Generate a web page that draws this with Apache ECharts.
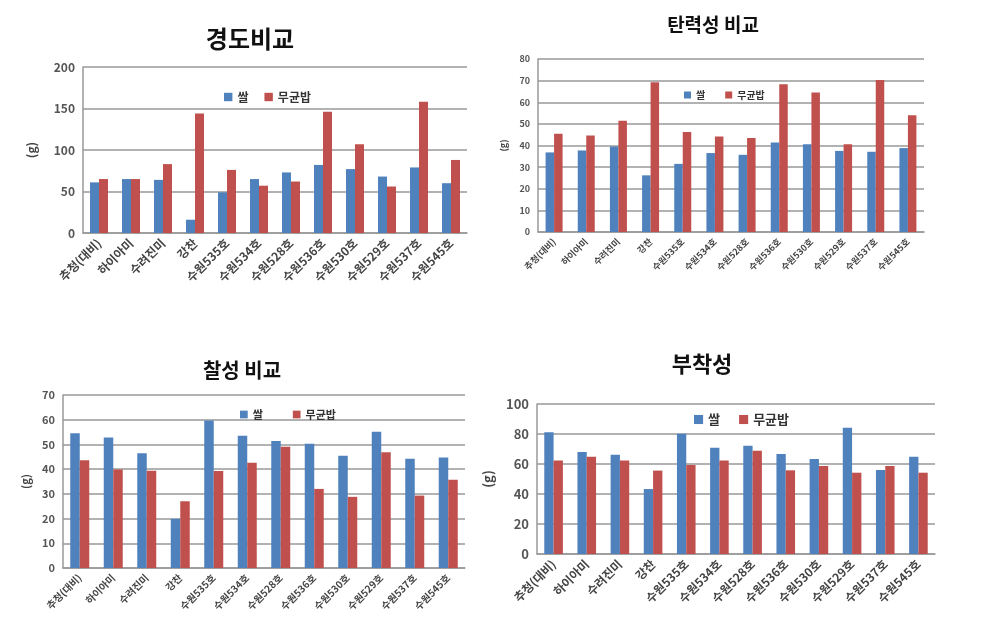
<!DOCTYPE html>
<html><head><meta charset="utf-8">
<script src="https://cdn.jsdelivr.net/npm/echarts@6/dist/echarts.min.js"></script>
<style>html,body{margin:0;padding:0;background:#fff}#c{width:993px;height:640px}</style>
</head><body><div id="c"></div>
<script>
const categories = ['추청(대비)','하이아미','수려진미','강찬','수원535호','수원534호','수원528호','수원536호','수원530호','수원529호','수원537호','수원545호'];
const seriesNames = ['쌀','무균밥'];
const titles = ['경도비교','탄력성 비교','찰성 비교','부착성'];
// 경도
const hardRice = [61,65,64,16,49,65,73,82,77,68,79,60];
const hardCooked = [65,65,83,144,76,57,62,146,107,56,158,88];
// 탄력성
const elasRice = [36.8,37.7,39.5,26.2,31.5,36.5,35.7,41.4,40.6,37.5,37.1,38.8];
const elasCooked = [45.4,44.6,51.5,69.2,46.3,44.2,43.5,68.3,64.5,40.6,70.3,54];
// 찰성
const stickRice = [54.5,52.8,46.4,19.9,59.7,53.5,51.4,50.3,45.4,55.1,44.2,44.7];
const stickCooked = [43.6,39.9,39.3,27,39.2,42.6,49.1,32,28.8,46.8,29.3,35.7];
// 부착성
const adhRice = [81.1,68,66.2,43.3,80.2,70.9,72.2,66.7,63.3,84.2,56,64.9];
const adhCooked = [62.4,64.9,62.4,55.6,59.3,62.4,68.9,55.8,58.7,54.2,58.7,54.2];
const yMax = [200,80,70,100];
const yStep = [50,10,10,20];
const yName = '(g)';

const FONT = '"Noto Sans CJK KR", "Noto Sans", sans-serif';
const BLUE = '#4f81bd', RED = '#c0504d';
const data = [[hardRice,hardCooked],[elasRice,elasCooked],[stickRice,stickCooked],[adhRice,adhCooked]];

const L = [
  {grid:{left:83,top:67,width:384,height:166}, title:[245,22,24], legend:[219,86,12], lgap:16, ylab:12, xlab:12, gap:46, bw:9},
  {grid:{left:538,top:59,width:386,height:173}, title:[708,10,19], legend:[679,85,10], lgap:20, ylab:9, xlab:9, gap:30, bw:8.5},
  {grid:{left:63,top:395,width:402,height:173}, title:[237,355,20], legend:[235,404,11], lgap:30, ylab:11, xlab:10, gap:32, bw:9.5},
  {grid:{left:537,top:404,width:398,height:150}, title:[697,348,22], legend:[689,408,13], lgap:19, ylab:13, xlab:12, gap:42, bw:9.3}
];

const option = {
  backgroundColor:'#fff',
  animation:false,
  title: L.map((l,i)=>({text:titles[i], left:l.title[0], top:l.title[1], textAlign:'center',
    textStyle:{fontFamily:FONT, fontWeight:'bold', fontSize:l.title[2], color:'#111'}})),
  legend: L.map((l,i)=>({left:l.legend[0], top:l.legend[1], itemWidth:l.legend[2]*0.7, itemHeight:l.legend[2]*0.7,
    itemGap: l.lgap, data: seriesNames.map(n=>({name:n, icon:'rect'})),
    textStyle:{fontFamily:FONT, fontWeight:'bold', fontSize:l.legend[2], color:'#333'}})),
  grid: L.map(l=>l.grid),
  xAxis: L.map((l,i)=>({type:'category', gridIndex:i, data:categories,
    axisLine:{lineStyle:{color:'#999', width:1.5}}, axisTick:{show:false},
    axisLabel:{interval:0, rotate:45, fontFamily:FONT, fontWeight:'bold', fontSize:l.xlab, color:'#444', margin:8}})),
  yAxis: L.map((l,i)=>({type:'value', gridIndex:i, min:0, max:yMax[i], interval:yStep[i],
    name:yName, nameLocation:'middle', nameRotate:90, nameGap:l.gap,
    nameTextStyle:{fontFamily:FONT, fontWeight:'bold', fontSize:l.ylab, color:'#444'},
    axisLine:{show:true, lineStyle:{color:'#999', width:1.5}}, axisTick:{show:false},
    splitLine:{lineStyle:{color:'#999', width:1.5}},
    axisLabel:{fontFamily:FONT, fontWeight:'bold', fontSize:l.ylab, color:'#555', margin:8}})),
  series: []
};
data.forEach((pair,i)=>{
  pair.forEach((vals,j)=>{
    option.series.push({type:'bar', name:seriesNames[j], xAxisIndex:i, yAxisIndex:i, data:vals,
      barWidth:L[i].bw, barGap:'0%', itemStyle:{color: j===0?BLUE:RED}});
  });
});
const chart = echarts.init(document.getElementById('c'), null, {renderer:'canvas'});
chart.setOption(option);
</script></body></html>
